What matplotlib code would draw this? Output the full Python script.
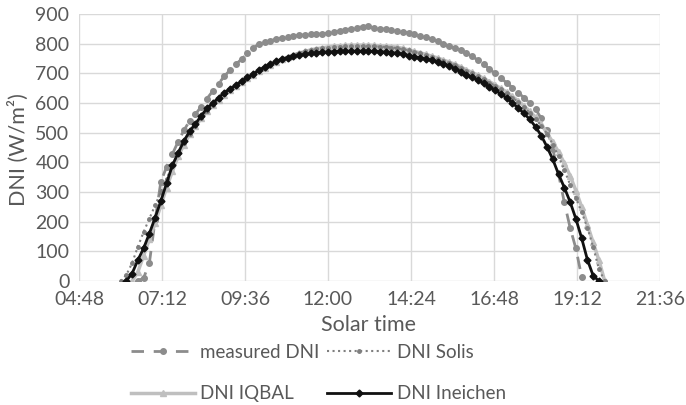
import numpy as np
import matplotlib
matplotlib.use('Agg')
import matplotlib.pyplot as plt
from matplotlib.ticker import FuncFormatter

plt.rcParams['font.family'] = ['Lato', 'DejaVu Sans']

nan = np.nan

# solar time grid, 10 min steps 06:00 .. 20:00 (hours)
times = np.arange(6 * 60, 20 * 60 + 1, 10) / 60.0

# one row per hour (:00 :10 :20 :30 :40 :50), last value = 20:00
measured = [nan, nan, nan, 0, 10, 60,
            205, 335, 385, 428, 470, 508,
            540, 562, 588, 615, 640, 665,
            690, 711, 730, 748, 767, 784,
            800, 805, 810, 815, 820, 824,
            826, 828, 830, 831, 832, 833,
            835, 840, 843, 846, 851, 854,
            857, 860, 854, 850, 849, 847,
            844, 840, 836, 831, 826, 821,
            815, 808, 800, 792, 785, 777,
            768, 757, 745, 732, 714, 700,
            684, 668, 652, 635, 618, 600,
            580, 548, 510, 445, 360, 265,
            180, 110, 15, nan, nan, nan,
            nan]

solis = [0, 20, 60, 115, 165, 210,
         255, 300, 345, 390, 430, 465,
         497, 524, 550, 574, 594, 612,
         629, 644, 658, 671, 684, 696,
         708, 719, 729, 739, 748, 756,
         763, 769, 774, 778, 782, 785,
         787, 789, 790, 791, 792, 792,
         792, 792, 791, 790, 789, 787,
         785, 781, 777, 772, 767, 761,
         755, 749, 742, 735, 728, 719,
         709, 700, 691, 680, 669, 658,
         646, 633, 618, 603, 586, 567,
         547, 523, 497, 460, 420, 375,
         325, 280, 232, 180, 115, 40,
         0]

iqbal = [nan, nan, 0, 30, 85, 140,
         195, 255, 315, 370, 420, 460,
         495, 522, 548, 572, 592, 610,
         628, 643, 657, 670, 683, 695,
         707, 718, 728, 738, 747, 755,
         762, 768, 774, 779, 783, 786,
         789, 791, 793, 794, 795, 795,
         795, 795, 794, 793, 791, 790,
         788, 784, 779, 774, 769, 764,
         758, 752, 745, 738, 731, 722,
         712, 703, 694, 683, 672, 661,
         649, 637, 622, 607, 590, 572,
         552, 528, 498, 468, 435, 397,
         355, 305, 250, 190, 130, 70,
         0]

ineichen = [nan, 0, 25, 70, 110, 160,
            213, 270, 330, 390, 432, 472,
            505, 530, 557, 582, 600, 617,
            635, 648, 660, 674, 686, 697,
            711, 721, 731, 740, 748, 753,
            757, 761, 764, 767, 769, 771,
            772, 773, 774, 775, 775, 775,
            775, 775, 774, 773, 772, 770,
            768, 765, 760, 756, 752, 748,
            744, 738, 732, 725, 716, 706,
            695, 686, 677, 666, 654, 643,
            630, 617, 600, 583, 565, 545,
            520, 490, 452, 410, 360, 315,
            267, 210, 145, 72, 18, 0,
            nan]

xticks = [4.8, 7.2, 9.6, 12.0, 14.4, 16.8, 19.2, 21.6]
yticks = [0, 100, 200, 300, 400, 500, 600, 700, 800, 900]

txt = '#595959'
fs_tick = 14
fs_title = 15.5
fs_leg = 13.5

fig = plt.figure(figsize=(6.86, 4.05), dpi=100)
ax = fig.add_axes([0.1152, 0.3062, 0.8469, 0.6592])

l_meas, = ax.plot(times, measured, color='#8C8C8C', lw=2, dashes=(4.5, 3.5),
                  marker='o', ms=4, label='measured DNI', zorder=3)
l_iqbal, = ax.plot(times, iqbal, color='#BFBFBF', lw=2.5, marker='^', ms=4,
                   label='DNI IQBAL', zorder=4)
l_solis, = ax.plot(times, solis, color='#7F7F7F', lw=1.5, ls=':', marker='o',
                   ms=2.5, label='DNI Solis', zorder=5)
l_ine, = ax.plot(times, ineichen, color='#111111', lw=2, marker='D', ms=3.5,
                 label='DNI Ineichen', zorder=6)


def hhmm(v, pos=None):
    m = int(round(v * 60))
    return '%02d:%02d' % (m // 60, m % 60)


ax.set_xlim(4.8, 21.6)
ax.set_ylim(0, 900)
ax.set_xticks(xticks)
ax.set_yticks(yticks)
ax.xaxis.set_major_formatter(FuncFormatter(hhmm))
ax.grid(True, color='#D9D9D9', lw=1)
ax.set_axisbelow(True)
for s in ax.spines.values():
    s.set_visible(False)
ax.tick_params(length=0, labelsize=fs_tick, colors=txt)
ax.tick_params(axis='x', pad=7)
ax.tick_params(axis='y', pad=7)

fig.text(369 / 686, 1 - 325 / 405, 'Solar time', ha='center', va='center',
         fontsize=fs_title, color=txt)
fig.text(18 / 686, 1 - 150 / 405, 'DNI (W/m²)', ha='center', va='center',
         rotation=90, fontsize=fs_title, color=txt)

fig.legend(handles=[l_meas, l_iqbal, l_solis, l_ine], loc='upper left',
           bbox_to_anchor=(131 / 686, 1 - 344 / 405), ncol=2, frameon=False,
           handlelength=3.4, handletextpad=0.3, columnspacing=0.4,
           labelspacing=1.3, borderaxespad=0, borderpad=0, fontsize=fs_leg,
           labelcolor=txt, numpoints=1)

plt.savefig('out.png', dpi=100)
